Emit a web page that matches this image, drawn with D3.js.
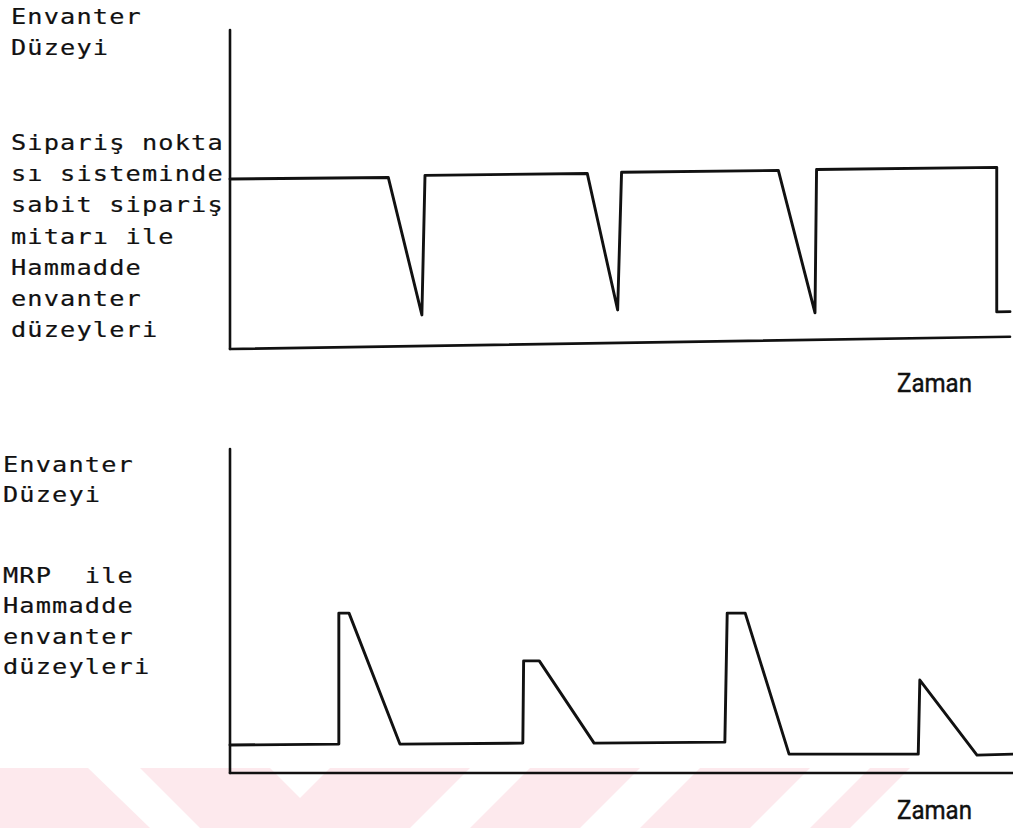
<!DOCTYPE html>
<html>
<head>
<meta charset="utf-8">
<script src="https://cdn.jsdelivr.net/npm/d3@7"></script>
<style>
  html, body { margin: 0; padding: 0; background: #fff; }
  svg { display: block; }
  .lbl { font-family: "DejaVu Sans Mono", monospace; font-size: 22px; letter-spacing: 1px; fill: #111; stroke: #111; stroke-width: 0.2; }
  .zaman { font-family: Roboto, "Liberation Sans", sans-serif; font-size: 25px; fill: #111; stroke: #111; stroke-width: 0.4; }
  .curve { fill: none; stroke: #111; stroke-width: 2.9; stroke-linejoin: round; stroke-linecap: round; }
  .axis-line { stroke: #111; stroke-width: 2.6; fill: none; stroke-linecap: round; }
</style>
</head>
<body>
<div id="chart"></div>
<script>
// upper panel: reorder point system with fixed order quantity
var topTime = [0, 20.3, 24.6, 25.0, 45.8, 49.7, 50.2, 70.3, 75.0, 75.2, 98.3, 98.3, 100];
var topLevel = [51.5, 51.2, 9.4, 51.7, 51.5, 10, 51.7, 51.5, 8.2, 51.6, 51.4, 7.6, 7.6];

// lower panel: MRP
var mrpTime = [0, 13.9, 13.9, 15.2, 21.7, 37.4, 37.5, 39.5, 46.5, 63.2, 63.5, 65.8, 71.4, 87.9, 88.1, 95.4, 100];
var mrpLevel = [8.6, 8.9, 49.2, 49.2, 8.9, 9.2, 34.5, 34.5, 9.2, 9.5, 49.2, 49.2, 5.8, 5.8, 28.6, 5.5, 5.8];

var topLabels = ['Sipariş nokta', 'sı sisteminde', 'sabit sipariş', 'mitarı ile', 'Hammadde', 'envanter', 'düzeyleri'];
var mrpLabels = ['MRP  ile', 'Hammadde', 'envanter', 'düzeyleri'];
var axisTitle = ['Envanter', 'Düzeyi'];
var timeTitle = 'Zaman';

var width = 1013, height = 828;
var stretch = 1.15; // the typewriter face is wider than DejaVu Sans Mono

var svg = d3.select('#chart').append('svg')
    .attr('width', width)
    .attr('height', height);

svg.append('rect').attr('width', width).attr('height', height).attr('fill', '#fff');

// faint pink watermark stripes along the bottom edge
var wm = svg.append('g').attr('fill', '#fde9ed');
var stripes = [
    [[0, 768], [88, 768], [150, 828], [0, 828]],
    [[140, 768], [270, 768], [330, 828], [200, 828]],
    [[330, 768], [470, 768], [410, 828], [270, 828]],
    [[530, 768], [640, 768], [580, 828], [470, 828]],
    [[700, 768], [810, 768], [750, 828], [640, 828]],
    [[870, 768], [910, 768], [850, 828], [810, 828]]
];
wm.selectAll('polygon')
    .data(stripes)
    .enter().append('polygon')
    .attr('points', function (d) { return d.map(function (p) { return p.join(','); }).join(' '); });

function drawPanel(opts) {
    var g = svg.append('g')
        .attr('transform', opts.transform || null);
    var x = d3.scaleLinear().domain([0, 100]).range([opts.x0, opts.x1]);
    var y = d3.scaleLinear().domain([0, 100]).range([opts.yBase, opts.yTop]);

    // axes without ticks, as in the hand drawing
    g.append('line').attr('class', 'axis-line')
        .attr('x1', x(0)).attr('x2', x(0))
        .attr('y1', y(0)).attr('y2', opts.axisTop);
    g.append('line').attr('class', 'axis-line')
        .attr('x1', x(0)).attr('x2', x(100))
        .attr('y1', y(0)).attr('y2', y(0));

    var line = d3.line()
        .x(function (d) { return x(d[0]); })
        .y(function (d) { return y(d[1]); });
    var pts = opts.time.map(function (t, i) { return [t, opts.level[i]]; });
    g.append('path').attr('class', 'curve').datum(pts).attr('d', line);
}

drawPanel({
    x0: 230, x1: 1010, yBase: 349, yTop: 19, axisTop: 30,
    time: topTime, level: topLevel,
    transform: 'translate(230,349) skewY(-0.9) translate(-230,-349)'
});
drawPanel({
    x0: 230, x1: 1013, yBase: 773, yTop: 448, axisTop: 449,
    time: mrpTime, level: mrpLevel
});

function textBlock(lines, x, y0, step) {
    svg.append('g')
        .attr('transform', 'scale(' + stretch + ',1)')
        .selectAll('text')
        .data(lines)
        .enter().append('text')
        .attr('class', 'lbl')
        .attr('x', x / stretch)
        .attr('y', function (d, i) { return y0 + i * step; })
        .attr('xml:space', 'preserve')
        .style('white-space', 'pre')
        .text(function (d) { return d; });
}

textBlock(axisTitle, 11, 24, 31);
textBlock(topLabels, 11, 150, 31.2);
textBlock(axisTitle, 3, 472, 30);
textBlock(mrpLabels, 3, 583, 30.5);

svg.append('text').attr('class', 'zaman')
    .attr('x', 897).attr('y', 392)
    .attr('textLength', 75).attr('lengthAdjust', 'spacingAndGlyphs')
    .text(timeTitle);
svg.append('text').attr('class', 'zaman')
    .attr('x', 897).attr('y', 819)
    .attr('textLength', 75).attr('lengthAdjust', 'spacingAndGlyphs')
    .text(timeTitle);
</script>
</body>
</html>
